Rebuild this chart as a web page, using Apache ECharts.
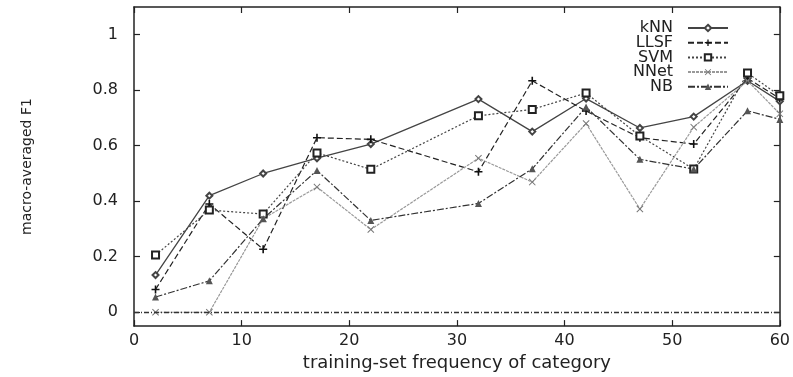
<!DOCTYPE html>
<html>
<head>
<meta charset="utf-8">
<script src="https://cdn.jsdelivr.net/npm/echarts@6/dist/echarts.min.js"></script>
<style>
  html, body { margin: 0; padding: 0; background: #fff; }
  #chart { width: 793px; height: 377px; }
</style>
</head>
<body>
<div id="chart"></div>
<script>
// training-set frequency (x) and macro-averaged F1 per method
const freqs = [2, 7, 12, 17, 22, 32, 37, 42, 47, 52, 57, 60]
const knn  = [0.134, 0.42, 0.50, 0.555, 0.606, 0.768, 0.651, 0.77, 0.664, 0.705, 0.834, 0.76]
const llsf = [0.082, 0.39, 0.227, 0.629, 0.623, 0.506, 0.834, 0.725, 0.629, 0.606, 0.843, 0.77]
const svm  = [0.206, 0.368, 0.354, 0.574, 0.515, 0.708, 0.731, 0.79, 0.635, 0.516, 0.862, 0.78]
const nnet = [0, 0, 0.337, 0.451, 0.298, 0.555, 0.469, 0.68, 0.372, 0.667, 0.834, 0.715]
const nb   = [0.055, 0.113, 0.337, 0.511, 0.331, 0.392, 0.517, 0.74, 0.551, 0.516, 0.726, 0.695]

const methods = ['kNN', 'LLSF', 'SVM', 'NNet', 'NB']
const yTicks = [0, 0.2, 0.4, 0.6, 0.8, 1]

const FONT = 'DejaVu Sans'
const plusSym = 'path://M4,0H6V4H10V6H6V10H4V6H0V4H4Z'
const crossSym = 'path://M1,0L5,4L9,0L10,1L6,5L10,9L9,10L5,6L1,10L0,9L4,5L0,1Z'

const toPairs = vals => freqs.map((x, i) => [x, vals[i]])

const chart = echarts.init(document.getElementById('chart'))

// frame lines must stay on the grid edges, not at zero
const baseAxisLine = { onZero: false, lineStyle: { color: '#222', width: 1.5 } }
const tickIn = { inside: true, length: 6, lineStyle: { color: '#222', width: 1.2 } }

const mkSeries = (name, vals, opts) => ({
  name,
  type: 'line',
  data: toPairs(vals),
  symbolSize: 6,
  z: 3,
  ...opts
})

const option = {
  animation: false,
  backgroundColor: '#fff',
  grid: { left: 134, right: 13, top: 7, bottom: 42 },
  legend: methods.map((m, i) => ({
    data: [m],
    right: 64,
    top: 20 + i * 14.7,
    orient: 'vertical',
    align: 'right',
    itemWidth: 40,
    itemHeight: 8,
    padding: 0,
    textStyle: { fontFamily: FONT, fontSize: 16, color: '#222', padding: [0, 10, 0, 0] }
  })),
  xAxis: [
    {
      type: 'value', min: 0, max: 60, interval: 10,
      name: 'training-set frequency of category',
      nameLocation: 'middle', nameGap: 23,
      nameTextStyle: { fontFamily: FONT, fontSize: 18, color: '#222' },
      axisLine: baseAxisLine, axisTick: tickIn,
      axisLabel: { fontFamily: FONT, fontSize: 16, color: '#222', margin: 7 },
      splitLine: { show: false }
    },
    {
      type: 'value', min: 0, max: 60, interval: 10, position: 'top',
      axisLine: baseAxisLine, axisTick: tickIn,
      axisLabel: { show: false }, splitLine: { show: false }
    }
  ],
  yAxis: [
    {
      type: 'value', min: -0.05, max: 1.1,
      name: 'macro-averaged F1',
      nameLocation: 'middle', nameGap: 100,
      nameTextStyle: { fontFamily: FONT, fontSize: 14, color: '#222' },
      axisLine: baseAxisLine,
      axisTick: { ...tickIn, customValues: yTicks },
      axisLabel: { customValues: yTicks, fontFamily: FONT, fontSize: 16, color: '#222', margin: 16 },
      splitLine: { show: false }
    },
    {
      type: 'value', min: -0.05, max: 1.1, position: 'right',
      axisLine: baseAxisLine,
      axisTick: { ...tickIn, customValues: yTicks },
      axisLabel: { show: false }, splitLine: { show: false }
    }
  ],
  series: [
    mkSeries('kNN', knn, {
      symbol: 'emptyDiamond',
      itemStyle: { color: '#444', borderWidth: 1.2 },
      lineStyle: { color: '#444', width: 1.3, type: 'solid' }
    }),
    mkSeries('LLSF', llsf, {
      symbol: plusSym, symbolSize: 8,
      itemStyle: { color: '#111' },
      lineStyle: { color: '#222', width: 1.2, type: [6, 3] }
    }),
    mkSeries('SVM', svm, {
      symbol: 'emptyRect', symbolSize: 7,
      itemStyle: { color: '#222', borderWidth: 1.2 },
      lineStyle: { color: '#444', width: 1.2, type: [2, 2] }
    }),
    mkSeries('NNet', nnet, {
      symbol: crossSym, symbolSize: 7,
      itemStyle: { color: '#777' },
      lineStyle: { color: '#999', width: 1.2, type: [3, 1] },
      markLine: {
        silent: true, symbol: 'none', label: { show: false },
        lineStyle: { color: '#333', width: 1.3, type: [5, 2, 1, 2] },
        data: [{ yAxis: 0 }]
      }
    }),
    mkSeries('NB', nb, {
      symbol: 'triangle', symbolSize: 7,
      itemStyle: { color: '#555' },
      lineStyle: { color: '#333', width: 1.2, type: [7, 2, 2, 2] }
    })
  ]
}

chart.setOption(option)
window.addEventListener('resize', () => chart.resize())
</script>
</body>
</html>
